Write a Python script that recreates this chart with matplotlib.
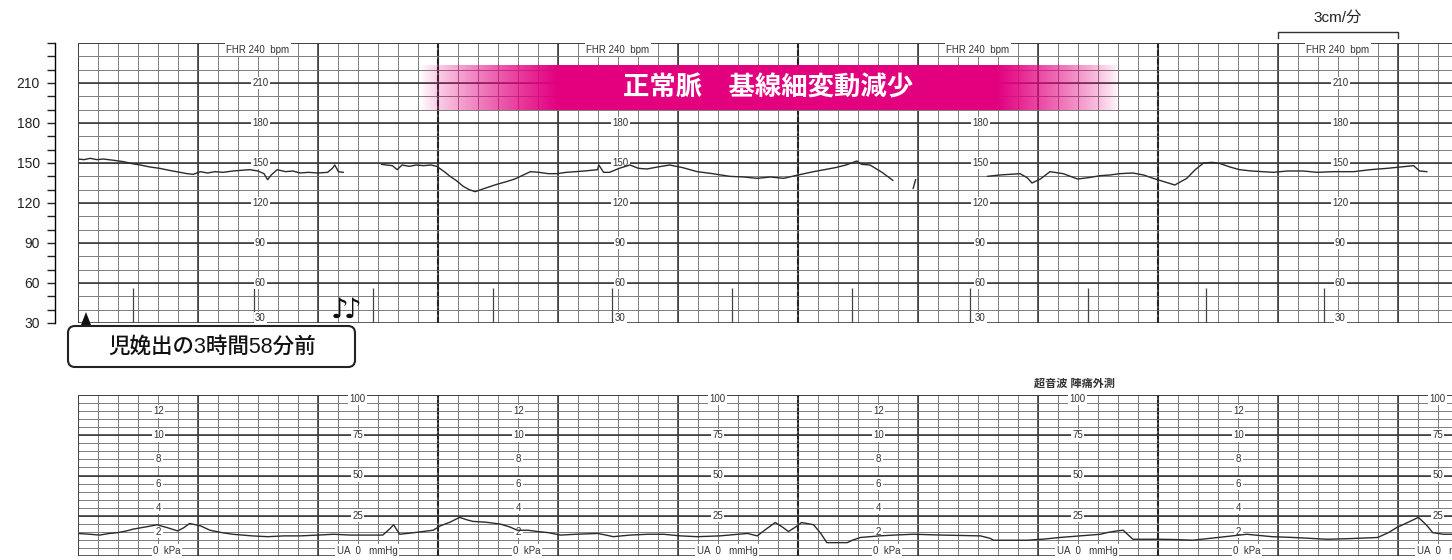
import numpy as np
import matplotlib
matplotlib.use("Agg")
import matplotlib.pyplot as plt
from matplotlib import patches
from matplotlib.transforms import blended_transform_factory

plt.rcParams['font.family'] = ['Liberation Sans', 'Noto Sans CJK JP', 'DejaVu Sans']

nan = np.nan

# fetal heart rate trace: minutes from the left edge of the paper, bpm (nan = signal lost)
fhr_time = [0.00, 0.05, 0.10, 0.16, 0.21, 0.30, 0.38, 0.45, 0.52, 0.60,
            0.68, 0.76, 0.85, 0.91, 0.96, 1.02, 1.08, 1.14, 1.21, 1.29,
            1.36, 1.43, 1.50, 1.55, 1.58, 1.61, 1.66, 1.73, 1.79, 1.85,
            1.92, 2.00, 2.08, 2.12, 2.14, 2.17, 2.21, nan, 2.53, 2.57,
            2.62, 2.66, 2.70, 2.76, 2.82, 2.88, 2.94, 2.99, 3.06, 3.10,
            3.15, 3.21, 3.26, 3.31, 3.39, 3.49, 3.57, 3.64, 3.70, 3.77,
            3.84, 3.92, 3.99, 4.07, 4.14, 4.22, 4.33, 4.34, 4.38, 4.43,
            4.51, 4.60, 4.67, 4.74, 4.83, 4.93, 5.04, 5.16, 5.29, 5.43,
            5.55, 5.66, 5.77, 5.88, 6.00, 6.13, 6.22, 6.31, 6.40, 6.49,
            6.53, 6.60, 6.70, 6.79, nan, 6.96, 6.98, nan, 7.58, 7.68,
            7.77, 7.85, 7.91, 7.95, 8.02, 8.10, 8.21, 8.33, 8.42, 8.52,
            8.60, 8.68, 8.79, 8.88, 8.96, 9.05, 9.14, 9.24, 9.31, 9.38,
            9.45, 9.52, 9.60, 9.68, 9.78, 9.87, 9.96, 10.08, 10.21, 10.33,
            10.46, 10.63, 10.77, 10.91, 11.02, 11.13, 11.18, 11.24]
fhr_bpm = [153, 152.5, 153.5, 152.5, 153, 152, 151, 149.5, 148.5, 147,
           146, 144.5, 143, 142, 141.5, 143.5, 142.5, 143.5, 143, 144,
           144.5, 145, 144, 142, 137.5, 141, 145, 143.5, 144, 142.5,
           143, 142.5, 143, 146, 148.5, 143.5, 143, nan, 149, 148.5,
           148, 145, 148.5, 147.5, 148.5, 148, 148.5, 147.5, 143, 140,
           137, 132.5, 130, 128.5, 131, 134, 136, 138, 140.5, 143.5,
           143, 142, 142, 143, 143.5, 144, 145, 148.5, 143, 143,
           146, 148.5, 146, 145.5, 147, 148.5, 146.5, 143.5, 142, 140,
           139.5, 138.5, 139.5, 138.5, 141, 143.5, 145, 146.5, 148.5, 151.5,
           149, 148.5, 143, 137, nan, 131, 137.5, nan, 140, 141,
           141.5, 142, 139, 135, 138, 143.5, 142, 138, 139, 140.5,
           141, 142, 142.5, 141, 138.5, 136, 133.5, 138.5, 145, 150,
           150.5, 149.5, 147, 145, 144, 143.5, 143, 144, 144, 143,
           143.5, 143.5, 145, 146, 147, 148, 144, 143.5]

# uterine activity trace: minutes, mmHg
ua_time = [0.00, 0.10, 0.18, 0.26, 0.33, 0.40, 0.46, 0.56, 0.66, 0.70,
           0.74, 0.83, 0.88, 0.93, 1.02, 1.10, 1.20, 1.29, 1.45, 1.58,
           1.72, 1.85, 2.00, 2.13, 2.27, 2.40, 2.54, 2.60, 2.63, 2.68,
           2.80, 2.96, 3.02, 3.10, 3.18, 3.24, 3.29, 3.40, 3.52, 3.60,
           3.66, 3.75, 3.83, 3.92, 4.02, 4.15, 4.33, 4.40, 4.46, 4.60,
           4.75, 4.88, 5.02, 5.16, 5.35, 5.50, 5.58, 5.66, 5.74, 5.81,
           5.87, 5.92, 5.98, 6.03, 6.13, 6.19, 6.24, 6.41, 6.46, 6.52,
           6.68, 6.80, 6.96, 7.20, 7.52, 7.60, 7.63, 7.91, 8.05, 8.18,
           8.35, 8.52, 8.58, 8.65, 8.71, 8.79, 9.02, 9.15, 9.29, 9.50,
           9.74, 9.95, 10.13, 10.41, 10.60, 10.83, 10.92, 10.99, 11.10, 11.17,
           11.24, 11.29, 11.38, 11.45]
ua_mmhg = [14, 13.5, 13, 14, 14.5, 15.5, 16.7, 18, 19.4, 18.5,
           17.7, 15.6, 17.5, 20.2, 18.75, 16, 14.5, 13.5, 12.5, 12,
           12.5, 12.5, 13, 13.5, 13, 13, 13, 17, 19.4, 13.5,
           14.5, 16, 18.75, 21, 24, 22.5, 21.5, 21, 19.8, 18,
           16, 16, 15.2, 14.5, 13, 13.5, 14, 13, 12, 13,
           13.5, 13.5, 12.5, 12, 12.5, 13.5, 14, 12.5, 17, 20.8,
           18, 15.2, 18, 20.8, 19.4, 14, 8.3, 8.3, 10, 11.5,
           12.5, 13, 13.5, 13, 12.5, 11, 9.8, 9.8, 10.5, 11.5,
           12.5, 13.5, 14.6, 15.5, 16, 10.4, 10.4, 10.2, 9.8, 11.5,
           13.5, 12, 11.5, 10.4, 10.8, 11.5, 14.5, 17.7, 21.5, 24,
           19, 14.5, 13.5, 13.5]

event_marks = [0.46, 1.47, 2.46, 3.46, 4.45, 5.45, 6.45, 7.43, 8.42, 9.40, 10.38]
movement_marks = [2.18, 2.29]

fhr_axis_ticks = [30, 60, 90, 120, 150, 180, 210]
fhr_paper_labels = [210, 180, 150, 120, 90, 60]
page_centers = [1.5, 4.5, 7.5, 10.5]
kpa_labels = [12, 10, 8, 6, 4, 2]
mmhg_labels = [100, 75, 50, 25]
kpa_columns = [0.67, 3.67, 6.67, 9.67]
mmhg_columns = [2.33, 5.33, 8.33, 11.33]

banner_text = '正常脈\u3000基線細変動減少'
note_text = '児娩出の3時間58分前'

W, H = 1452, 560
fig = plt.figure(figsize=(W / 100, H / 100), dpi=100)
fig.patch.set_facecolor('white')

t_end = (W - 78) / 120
thin = dict(color='#747474', lw=0.65)
thick = dict(color='#303030', lw=1.1)


def paper(ax, y0, y1, ystep, ymajor):
    minor_x = np.arange(0, t_end, 1 / 6)
    ax.vlines(minor_x, y0, y1, zorder=1, **thin)
    ax.vlines(np.arange(0, t_end, 1), y0, y1, zorder=1, **thick)
    ax.vlines([3, 6, 9], y0, y1, color='#222', lw=1.5, linestyle=(0, (3, 1)), zorder=1)
    ax.hlines(np.arange(y0, y1 + 0.1, ystep), 0, t_end, zorder=1, **thin)
    ax.hlines(np.arange(y0, y1 + 0.1, ymajor), 0, t_end, zorder=1, **thick)


lab = dict(fontsize=7, color='#333', ha='center', va='center', zorder=4,
           bbox=dict(boxstyle='square,pad=0.15', fc='white', ec='none'))

# ---- FHR panel
ax = fig.add_axes([78 / W, (H - 323) / H, (W - 78) / W, 280 / H])
paper(ax, 30, 240, 10, 30)

grad_x = np.linspace(2.85, 8.68, 500)
alpha = np.clip(np.minimum((grad_x - 2.85) / (3.99 - 2.85), (8.68 - grad_x) / (8.68 - 7.66)), 0, 1)
img = np.zeros((1, len(grad_x), 4))
img[..., 0], img[..., 1], img[..., 2] = 0.89, 0.0, 0.5
img[0, :, 3] = alpha ** 0.8
ax.imshow(img, extent=[2.85, 8.68, 190, 223.5], aspect='auto', zorder=5, interpolation='bilinear')
ax.text(5.75, 206.5, banner_text, color='white', fontsize=19, fontweight='bold',
        ha='center', va='center', zorder=6)

for c in page_centers:
    ax.text(c, 235, 'FHR 240  bpm', **lab)
    for v in fhr_paper_labels:
        ax.text(c + 0.02, v, str(v), **lab)
    ax.text(c + 0.02, 33.5, '30', **lab)

ax.vlines(event_marks, 30, 56, color='#444', lw=0.9, zorder=3)
for m in movement_marks:
    ax.text(m, 40, '♪', family='DejaVu Sans', fontsize=20, ha='center', va='center',
            color='#111', zorder=3)

ax.plot(fhr_time, fhr_bpm, color='#2b2b2b', lw=1.0, zorder=4)

ax.set_xlim(0, t_end)
ax.set_ylim(30, 240)
for s in ['top', 'right', 'bottom']:
    ax.spines[s].set_visible(False)
ax.spines['left'].set_position(('outward', 16.5))
ax.spines['left'].set_linewidth(1.0)
ax.set_xticks([])
ax.set_yticks(fhr_axis_ticks)
ax.set_yticks(np.arange(30, 241, 10), minor=True)
ax.tick_params(axis='y', which='both', direction='out', length=6, width=1, labelsize=10,
               pad=5, colors='#222')

# 1 minute bracket
tr = blended_transform_factory(ax.transData, ax.transAxes)
ax.plot([10, 10, 11, 11], [1.018, 1.04, 1.04, 1.018], color='#333', lw=1.0,
        transform=tr, clip_on=False)
ax.text(10.5, 1.09, '3cm/分', transform=tr, fontsize=11, ha='center', va='center', color='#222')

# ---- UA panel
ax2 = fig.add_axes([78 / W, (H - 556) / H, (W - 78) / W, 161 / H])
paper(ax2, 0, 100, 5, 25)
for c in kpa_columns:
    for v in kpa_labels:
        ax2.text(c, v * 7.5, str(v), **lab)
    ax2.text(c + 0.07, 3.2, '0  kPa', **lab)
for c in mmhg_columns:
    for v in mmhg_labels:
        ax2.text(c, v - (2.5 if v == 100 else 0), str(v), **lab)
    ax2.text(c + 0.08, 3.2, 'UA  0   mmHg', **lab)
ax2.plot(ua_time, ua_mmhg, color='#2b2b2b', lw=1.0, zorder=4)
ax2.set_xlim(0, t_end)
ax2.set_ylim(0, 100)
ax2.axis('off')
ax2.text(8.30, 107, '超音波 陣痛外測', fontsize=8, fontweight='bold', ha='center',
         va='center', color='#333', clip_on=False)

# ---- callout box
ov = fig.add_axes([0, 0, 1, 1])
ov.set_xlim(0, W)
ov.set_ylim(H, 0)
ov.axis('off')
ov.set_zorder(10)
ov.patch.set_alpha(0)
ov.add_patch(patches.FancyBboxPatch((68, 326), 287, 41, boxstyle='round,pad=0,rounding_size=7',
                                    fc='white', ec='#222', lw=1.5))
ov.add_patch(patches.Polygon([(81, 325), (91, 325), (86, 312)], closed=True, fc='#111', ec='none'))
ov.text(212, 347, note_text, fontsize=15.5, fontweight='medium', ha='center', va='center',
        color='#111')

fig.savefig('out.png', dpi=100, facecolor='white')
